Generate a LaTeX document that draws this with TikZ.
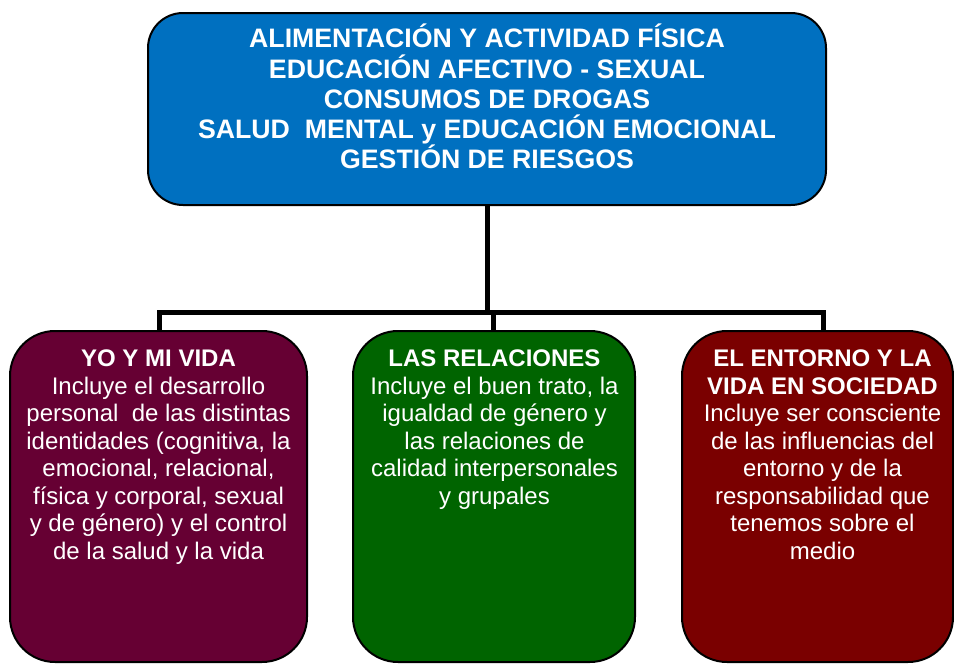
\documentclass[tikz,border=0pt]{standalone}
\usepackage{fontspec}
\setmainfont{Liberation Sans}
\definecolor{topblue}{RGB}{0,112,192}
\definecolor{yocol}{RGB}{102,0,51}
\definecolor{relcol}{RGB}{0,100,0}
\definecolor{entcol}{RGB}{122,0,0}
\tikzset{
  topbox/.style={draw=black, line width=2pt, fill=topblue, rounded corners=35pt, inner sep=0pt},
  lowbox/.style={draw=black, line width=2pt, rounded corners=45pt, inner sep=0pt, minimum height=331pt},
  toptxt/.style={text=white, font=\bfseries\fontsize{26.7}{30.2}\selectfont, align=center, inner sep=0pt},
  lowtxt/.style={text=white, font=\fontsize{24}{27.5}\selectfont, align=center, inner sep=0pt},
  conn/.style={draw=black, line width=5pt}
}
\begin{document}
\begin{tikzpicture}[x=1pt,y=-1pt]
\useasboundingbox (0,0) rectangle (954,664);
\node[topbox, minimum width=678pt, minimum height=192pt] (top) at (487,109) {};
\node[toptxt, anchor=north] (toptxt) at (487,24) {ALIMENTACIÓN Y ACTIVIDAD FÍSICA\\EDUCACIÓN AFECTIVO - SEXUAL\\CONSUMOS DE DROGAS\\SALUD~ MENTAL y EDUCACIÓN EMOCIONAL\\GESTIÓN DE RIESGOS};

\node[lowbox, fill=yocol, minimum width=297pt] (yo) at (158.5,496.5) {};
\node[lowbox, fill=relcol, minimum width=282pt] (rel) at (494,496.5) {};
\node[lowbox, fill=entcol, minimum width=271pt] (ent) at (817.5,496.5) {};

\coordinate (bl) at (159,312);
\coordinate (bm) at (493,312);
\coordinate (br) at (823,312);
\draw[conn] (top.south) -- (top.south |- bl);
\draw[conn] (yo.north -| bl) -- (bl) -- (br) -- (ent.north -| br);
\draw[conn] (bm) -- (rel.north -| bm);

\node[lowtxt, anchor=north] (yotxt) at (158.5,350) {{\bfseries YO Y MI VIDA}\\Incluye el desarrollo\\personal~ de las distintas\\identidades (cognitiva, la\\emocional, relacional,\\física y corporal, sexual\\y de género) y el control\\de la salud y la vida};
\node[lowtxt, anchor=north] (reltxt) at (494.5,350) {{\bfseries LAS RELACIONES}\\Incluye el buen trato, la\\igualdad de género y\\las relaciones de\\calidad interpersonales\\y grupales};
\node[lowtxt, anchor=north] (enttxt) at (822.5,350) {{\bfseries EL ENTORNO Y LA}\\{\bfseries VIDA EN SOCIEDAD}\\Incluye ser consciente\\de las influencias del\\entorno y de la\\responsabilidad que\\tenemos sobre el\\medio};
\end{tikzpicture}
\end{document}
